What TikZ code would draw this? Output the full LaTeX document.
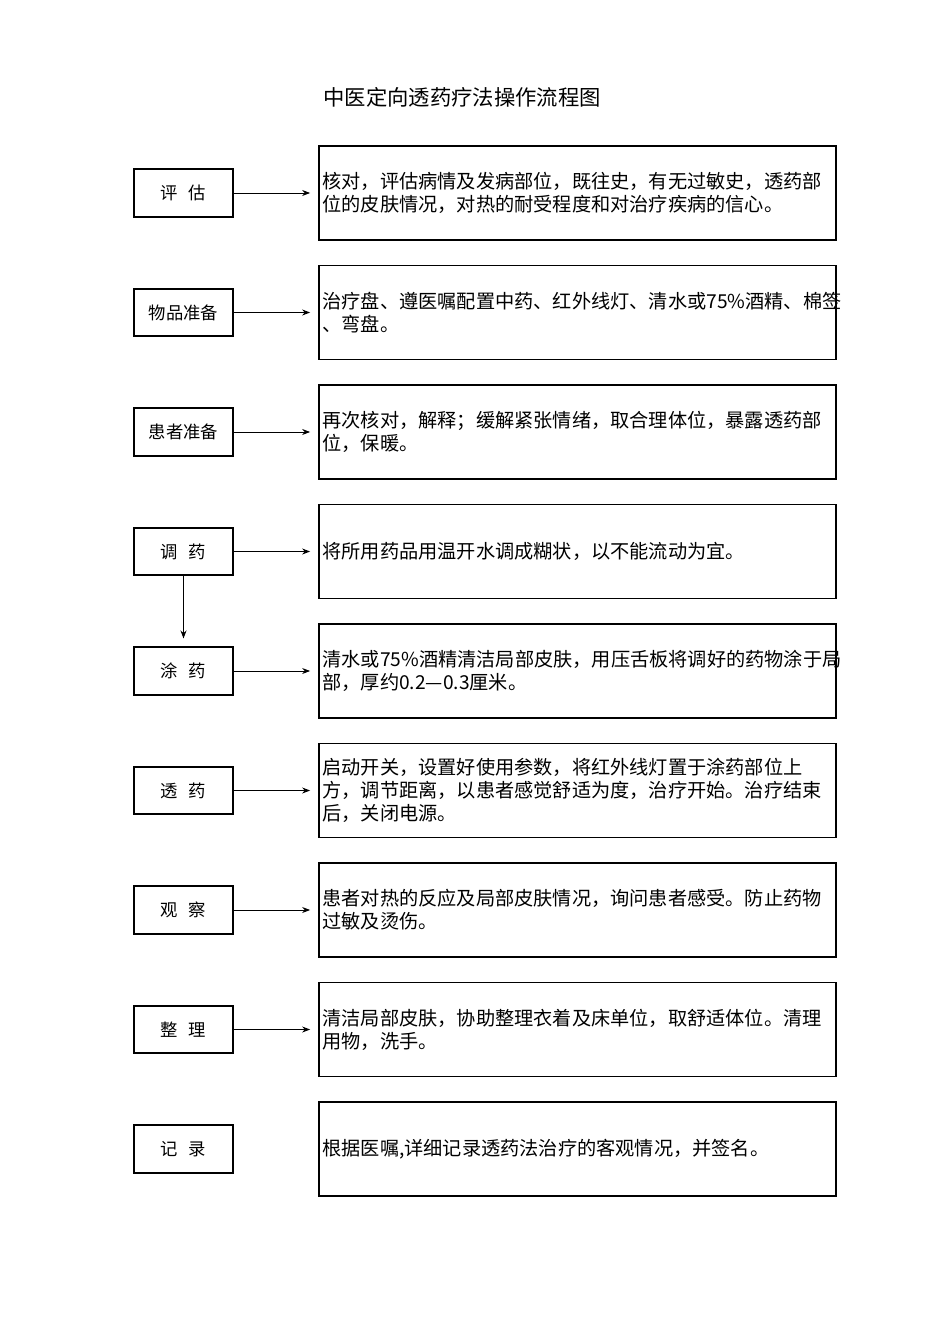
\documentclass[tikz,border=0pt]{standalone}
\usepackage{fontspec}
\usetikzlibrary{arrows.meta}
\setmainfont{Noto Sans CJK SC}
\begin{document}
\begin{tikzpicture}[x=0.75pt,y=-0.75pt,
  lbox/.style={draw,line width=1.3pt,minimum width=74.25pt,minimum height=35.5pt,inner sep=0pt,font=\fontsize{13pt}{15pt}\selectfont},
  rbox/.style={draw,line width=1.3pt,minimum width=387.75pt,minimum height=70.5pt,inner sep=0pt},
  rtext/.style={anchor=west,align=left,inner sep=0pt,font=\fontsize{14.4pt}{17.3pt}\selectfont},
  arr/.style={-{Stealth[length=6pt,width=4.5pt]},line width=0.7pt}]
\useasboundingbox (0,0) rectangle (950,1344);
\node[font=\fontsize{16pt}{18pt}\selectfont] (title) at (462,97) {中医定向透药疗法操作流程图};
\foreach \i/\lab/\txt in {
 0/{评\hspace{0.6em}估}/{核对，评估病情及发病部位，既往史，有无过敏史，透药部\\位的皮肤情况，对热的耐受程度和对治疗疾病的信心。},
 1/{物品准备}/{治疗盘、遵医嘱配置中药、红外线灯、清水或75\%酒精、棉签\\、弯盘。},
 2/{患者准备}/{再次核对，解释；缓解紧张情绪，取合理体位，暴露透药部\\位，保暖。},
 3/{调\hspace{0.6em}药}/{将所用药品用温开水调成糊状，以不能流动为宜。},
 4/{涂\hspace{0.6em}药}/{清水或75\%酒精清洁局部皮肤，用压舌板将调好的药物涂于局\\部，厚约0.2—0.3厘米。},
 5/{透\hspace{0.6em}药}/{启动开关，设置好使用参数，将红外线灯置于涂药部位上\\方，调节距离，以患者感觉舒适为度，治疗开始。治疗结束\\后，关闭电源。},
 6/{观\hspace{0.6em}察}/{患者对热的反应及局部皮肤情况，询问患者感受。防止药物\\过敏及烫伤。},
 7/{整\hspace{0.6em}理}/{清洁局部皮肤，协助整理衣着及床单位，取舒适体位。清理\\用物，洗手。},
 8/{记\hspace{0.6em}录}/{根据医嘱,详细记录透药法治疗的客观情况，并签名。}}{
  \pgfmathsetmacro\cy{193+119.5*\i}
  \node[lbox] (l\i) at (183.5,\cy) {\lab};
  \node[rbox] (r\i) at (577.5,\cy) {};
  \node[rtext] (t\i) at ([xshift=3pt]r\i.west) {\txt};
}
\foreach \i in {0,...,7}{ \draw[arr] (l\i.east) -- ([xshift=-6pt]r\i.west); }
\draw[arr] (l3.south) -- ([yshift=6pt]l4.north);
\end{tikzpicture}
\end{document}
